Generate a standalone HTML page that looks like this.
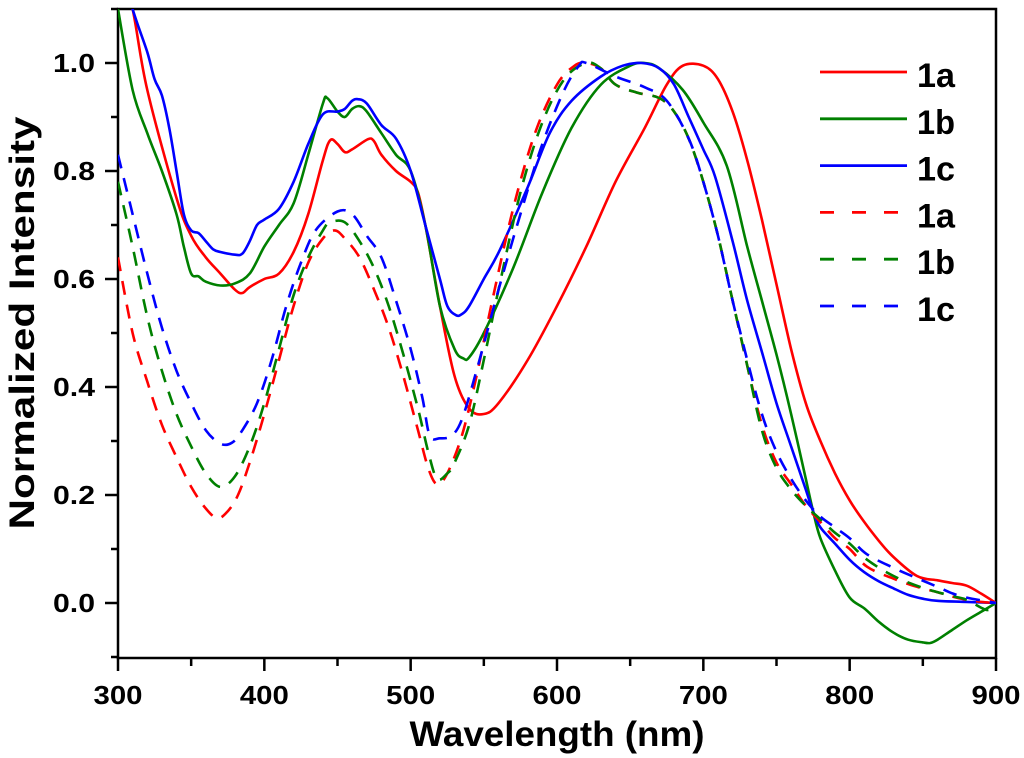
<!DOCTYPE html>
<html><head><meta charset="utf-8"><style>
html,body{margin:0;padding:0;background:#fff;}
svg{display:block;font-family:"Liberation Sans",Arial,sans-serif;font-weight:bold;}
</style></head><body>
<svg id="chart" width="1024" height="758" viewBox="0 0 1024 758">
<defs><clipPath id="plotclip"><rect x="118" y="9" width="878" height="649"/></clipPath></defs>
<g id="axes"></g>
<g id="series" clip-path="url(#plotclip)"></g>
<g id="legend"></g>
<text x="557" y="746" text-anchor="middle" font-size="35" textLength="295" lengthAdjust="spacingAndGlyphs">Wavelength (nm)</text>
<text x="0" y="0" transform="translate(34,323) rotate(-90)" text-anchor="middle" font-size="35" textLength="413" lengthAdjust="spacingAndGlyphs">Normalized  Intensity</text>
</svg>
<script>
const xTicks = [300,400,500,600,700,800,900];
const yTicks = [0.0,0.2,0.4,0.6,0.8,1.0];
const yTickLabels = ["0.0","0.2","0.4","0.6","0.8","1.0"];
const seriesNames = ["1a","1b","1c","1a","1b","1c"];

const abs1aX = [300,310,320,340,350,360,370,380,385,390,400,410,420,430,440,445,450,455,460,471,475,480,490,500,505,510,520,530,540,550,560,580,600,620,640,660,675,686,700,710,720,730,740,750,760,770,780,790,800,810,820,830,846,860,870,880,890,900];
const abs1aY = [1.2,1.1,0.95,0.75,0.68,0.64,0.61,0.58,0.574,0.585,0.60,0.61,0.65,0.72,0.82,0.857,0.85,0.835,0.84,0.859,0.855,0.83,0.80,0.78,0.76,0.70,0.55,0.42,0.36,0.35,0.37,0.45,0.55,0.66,0.78,0.88,0.96,0.995,0.995,0.97,0.91,0.82,0.71,0.59,0.47,0.37,0.30,0.24,0.19,0.15,0.115,0.085,0.05,0.042,0.037,0.032,0.017,0.0];

const abs1bX = [300,310,320,330,340,345,350,355,360,370,380,390,400,410,420,430,440,443,450,455,460,465,470,480,490,500,510,520,530,536,540,550,570,590,610,630,650,660,670,686,700,716,730,740,750,760,770,775,780,790,800,810,820,830,840,850,855,860,870,880,890,900];
const abs1bY = [1.1,0.95,0.87,0.80,0.72,0.66,0.61,0.605,0.595,0.588,0.592,0.61,0.66,0.70,0.74,0.83,0.925,0.935,0.91,0.90,0.915,0.92,0.91,0.87,0.83,0.80,0.70,0.55,0.47,0.453,0.455,0.50,0.62,0.76,0.88,0.96,0.995,1.0,0.99,0.95,0.89,0.81,0.66,0.56,0.46,0.35,0.23,0.17,0.12,0.06,0.01,-0.01,-0.035,-0.055,-0.068,-0.073,-0.074,-0.068,-0.05,-0.032,-0.016,0.0];

const abs1cX = [300,310,320,325,330,335,340,345,350,355,360,365,370,380,385,390,395,400,410,420,430,440,450,455,460,464,470,480,490,500,510,520,525,531,535,540,550,561,580,595,610,630,645,658,670,680,690,700,708,720,730,741,750,760,770,775,780,790,800,810,820,830,840,850,860,880,900];
const abs1cY = [1.2,1.1,1.02,0.97,0.94,0.88,0.80,0.72,0.69,0.685,0.67,0.655,0.65,0.645,0.647,0.67,0.70,0.71,0.73,0.78,0.85,0.905,0.91,0.915,0.93,0.933,0.925,0.885,0.86,0.80,0.70,0.60,0.55,0.533,0.535,0.55,0.60,0.654,0.77,0.87,0.93,0.975,0.995,1.0,0.99,0.96,0.90,0.84,0.79,0.67,0.56,0.456,0.37,0.29,0.21,0.17,0.14,0.11,0.08,0.057,0.04,0.027,0.015,0.008,0.004,0.002,0.0];

const em1aX = [300,310,320,330,340,350,360,368,375,382,390,400,410,420,430,440,448,455,465,475,485,495,505,512,518,525,535,545,555,570,585,600,612,620,630,640,655,670,680,690,700,710,720,730,740,750,760,770,780,790,800,812,830,846,860,870,880,890,900];
const em1aY = [0.64,0.50,0.41,0.33,0.27,0.215,0.175,0.157,0.17,0.20,0.26,0.35,0.45,0.55,0.63,0.675,0.69,0.675,0.64,0.58,0.51,0.42,0.32,0.25,0.22,0.24,0.31,0.42,0.55,0.73,0.87,0.96,0.995,1.0,0.99,0.96,0.945,0.935,0.91,0.86,0.78,0.68,0.56,0.44,0.33,0.26,0.22,0.18,0.15,0.12,0.10,0.067,0.045,0.03,0.02,0.012,0.006,0.002,0.0];

const em1bX = [300,310,320,330,340,350,360,370,380,390,400,410,420,430,440,445,455,465,475,485,495,505,512,518,525,530,540,550,560,575,590,605,620,630,640,655,670,680,690,700,710,720,730,740,750,760,770,780,790,800,812,830,850,870,880,894,900];
const em1bY = [0.78,0.66,0.53,0.43,0.35,0.29,0.24,0.215,0.235,0.29,0.37,0.47,0.57,0.64,0.69,0.705,0.705,0.67,0.62,0.55,0.46,0.36,0.28,0.23,0.24,0.26,0.33,0.45,0.58,0.76,0.89,0.97,1.0,0.99,0.96,0.945,0.935,0.91,0.86,0.78,0.68,0.56,0.44,0.32,0.25,0.21,0.18,0.155,0.13,0.11,0.08,0.05,0.028,0.013,0.006,-0.013,0.0];

const em1cX = [300,310,320,330,340,350,360,370,378,385,395,405,415,425,435,450,460,470,480,490,500,508,513,520,528,535,545,560,575,590,605,615,620,640,660,675,690,700,710,720,730,740,750,760,770,780,790,800,812,830,846,860,870,880,900];
const em1cY = [0.83,0.72,0.61,0.51,0.43,0.37,0.32,0.295,0.297,0.32,0.37,0.45,0.55,0.63,0.69,0.725,0.72,0.68,0.64,0.56,0.47,0.38,0.31,0.305,0.31,0.34,0.43,0.58,0.72,0.85,0.95,0.995,1.0,0.975,0.955,0.93,0.86,0.78,0.68,0.56,0.45,0.35,0.28,0.23,0.19,0.16,0.14,0.12,0.09,0.065,0.046,0.03,0.018,0.01,0.0];

const NS = "http://www.w3.org/2000/svg";
const X0=118, X1=996, Y0=603, PXU=540;
function xs(v){return X0+(v-300)/600*(X1-X0);}
function ys(v){return Y0-v*PXU;}
function mk(tag, attrs, parent){const e=document.createElementNS(NS,tag);for(const k in attrs)e.setAttribute(k,attrs[k]);parent.appendChild(e);return e;}

const axes=document.getElementById('axes');
let e;
e=mk('rect',{x:118,y:9,width:878,height:649,fill:'none',stroke:'#000','stroke-width':2.5},axes);


for(let v=300; v<=900; v+=50){
  const major = (v%100===0);
  e=mk('line',{x1:xs(v),x2:xs(v),y1:658,y2:major?671:666,stroke:'#000','stroke-width':2.5},axes);
  
  
}
xTicks.forEach(v=>{
  e=mk('text',{x:xs(v),y:704,'text-anchor':'middle','font-size':26,textLength:49,lengthAdjust:'spacingAndGlyphs'},axes);
  e.textContent=String(v);
  
  
});
for(let i=-1;i<=11;i++){
  const v=i/10; const major=(i%2===0 && i>=0);
  e=mk('line',{x1:major?105:111,x2:118,y1:ys(v),y2:ys(v),stroke:'#000','stroke-width':2.5},axes);
  
  
}
yTicks.forEach((v,i)=>{
  e=mk('text',{x:95,y:ys(v)+9,'text-anchor':'end','font-size':26,textLength:42,lengthAdjust:'spacingAndGlyphs'},axes);
  e.textContent=yTickLabels[i];
  
  
});

const seriesData=[[abs1aX,abs1aY],[abs1bX,abs1bY],[abs1cX,abs1cY],[em1aX,em1aY],[em1bX,em1bY],[em1cX,em1cY]];
const colors=['#ff0000','#008000','#0000ff','#ff0000','#008000','#0000ff'];
const sg=document.getElementById('series');
const lg=document.getElementById('legend');
function pathFor(xa,ya){
  const p=xa.map((x,i)=>[xs(x),ys(ya[i])]);
  let d='M'+p[0][0].toFixed(1)+','+p[0][1].toFixed(1);
  for(let i=0;i<p.length-1;i++){
    const p0=p[Math.max(0,i-1)],p1=p[i],p2=p[i+1],p3=p[Math.min(p.length-1,i+2)];
    const c1=[p1[0]+(p2[0]-p0[0])/6,p1[1]+(p2[1]-p0[1])/6];
    const c2=[p2[0]-(p3[0]-p1[0])/6,p2[1]-(p3[1]-p1[1])/6];
    d+='C'+c1[0].toFixed(1)+','+c1[1].toFixed(1)+' '+c2[0].toFixed(1)+','+c2[1].toFixed(1)+' '+p2[0].toFixed(1)+','+p2[1].toFixed(1);
  }
  return d;
}
seriesData.forEach((s,i)=>{
  const dashed=i>=3;
  e=mk('path',{d:pathFor(s[0],s[1]),fill:'none',stroke:colors[i],'stroke-width':2.6,'stroke-linejoin':'round'},sg);
  if(dashed)e.setAttribute('stroke-dasharray','14 10');
  
  
  const ly=72+i*46.8;
  e=mk('line',{x1:820,x2:907,y1:ly,y2:ly,stroke:colors[i],'stroke-width':2.8},lg);
  if(dashed){e.setAttribute('stroke-dasharray','14 18');}
  
  
  e=mk('text',{x:917,y:ly+15,'font-size':34,textLength:38,lengthAdjust:'spacingAndGlyphs'},lg);
  e.textContent=seriesNames[i];
  
  
});
</script>
</body></html>
